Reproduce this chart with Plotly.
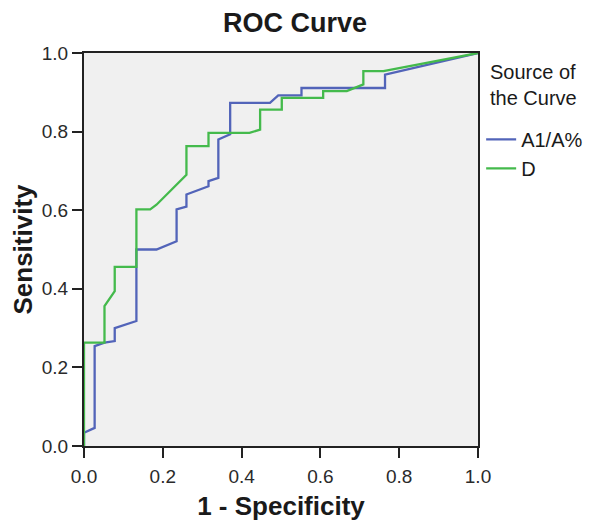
import plotly.graph_objects as go

# ROC curve points
a1_fpr = [0, 0, 0.027, 0.027, 0.052, 0.078, 0.078, 0.133, 0.133, 0.184, 0.235, 0.235, 0.26, 0.26,
          0.316, 0.316, 0.341, 0.341, 0.371, 0.371, 0.472, 0.493, 0.552, 0.552, 0.764, 0.764, 1.0]
a1_tpr = [0, 0.034, 0.046, 0.254, 0.263, 0.267, 0.30, 0.318, 0.50, 0.50, 0.521, 0.602, 0.609, 0.64,
          0.661, 0.674, 0.682, 0.78, 0.793, 0.873, 0.873, 0.892, 0.892, 0.911, 0.911, 0.945, 1.0]

d_fpr = [0, 0, 0.052, 0.052, 0.078, 0.078, 0.133, 0.133, 0.168, 0.184, 0.26, 0.26, 0.316, 0.316,
         0.42, 0.447, 0.447, 0.502, 0.502, 0.607, 0.607, 0.667, 0.709, 0.709, 0.76, 1.0]
d_tpr = [0, 0.263, 0.263, 0.356, 0.394, 0.456, 0.456, 0.602, 0.602, 0.614, 0.69, 0.763, 0.763, 0.797,
         0.797, 0.805, 0.856, 0.856, 0.886, 0.886, 0.903, 0.903, 0.92, 0.954, 0.954, 1.0]

series_names = ["A1/A%", "D"]
tick_vals = [0, 0.2, 0.4, 0.6, 0.8, 1.0]
tick_text = ["0.0", "0.2", "0.4", "0.6", "0.8", "1.0"]

FONT = "Arial, Liberation Sans, sans-serif"
BLUE = "#5264B9"
GREEN = "#44BA4C"
INK = "#1a1a1a"

fig = go.Figure()
fig.add_trace(go.Scatter(x=a1_fpr, y=a1_tpr, mode="lines", name=series_names[0],
                         line=dict(color=BLUE, width=2.3)))
fig.add_trace(go.Scatter(x=d_fpr, y=d_tpr, mode="lines", name=series_names[1],
                         line=dict(color=GREEN, width=2.3)))

axis_common = dict(
    range=[0, 1], tickvals=tick_vals, ticktext=tick_text,
    showgrid=False, zeroline=False, showline=True, linecolor="#222", linewidth=2,
    mirror=True, ticks="outside", ticklen=10, tickwidth=2, tickcolor="#222",
    tickfont=dict(family=FONT, size=19, color="#2a2a2a"), automargin=False,
)

# page body has an 8px margin, so the figure is 8px smaller than the window
fig.update_layout(
    width=592, height=522,
    margin=dict(l=76, r=122, t=45, b=83.5),
    paper_bgcolor="white", plot_bgcolor="#F0F0F0",
    title=dict(text="<b>ROC Curve</b>", x=287 / 592, xanchor="center",
               y=1 - 14.5 / 522, yanchor="middle",
               font=dict(family=FONT, size=27, color=INK)),
    xaxis=dict(**axis_common, ticklabelstandoff=2,
               title=dict(text="<b>1 - Specificity</b>", standoff=11,
                          font=dict(family=FONT, size=26, color=INK))),
    yaxis=dict(**axis_common,
               title=dict(text="<b>Sensitivity</b>", standoff=4,
                          font=dict(family=FONT, size=26, color=INK))),
    legend=dict(x=1.008, y=0.830, xanchor="left", yanchor="top",
                font=dict(family=FONT, size=20, color=INK),
                bgcolor="rgba(0,0,0,0)", itemwidth=30, tracegroupgap=0),
    showlegend=True,
)

fig.add_annotation(text="Source of<br>the Curve", xref="paper", yref="paper",
                   x=1.025, y=0.985, xanchor="left", yanchor="top", align="left",
                   showarrow=False, font=dict(family=FONT, size=20, color=INK))

fig.write_html("out.html")
